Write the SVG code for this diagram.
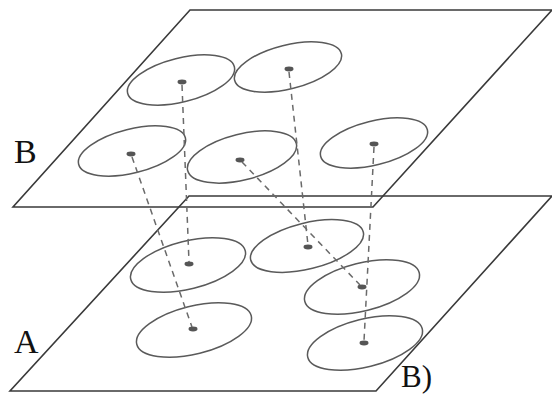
<svg xmlns="http://www.w3.org/2000/svg" width="552" height="396" viewBox="0 0 552 396">
<style>
.plane{fill:none;stroke:#3a3a3a;stroke-width:1.6}
.cell{fill:none;stroke:#5a5a5a;stroke-width:1.5}
.dot{fill:#555;stroke:none}
.link{fill:none;stroke:#6a6a6a;stroke-width:1.5;stroke-dasharray:6 5}
.lbl{font-family:"Liberation Serif","Times New Roman",serif;fill:#111}
</style>
<rect width="552" height="396" fill="#fff"/>
<g id="planeA">
<polygon class="plane" points="189,196 552,196 376,391 10,391"/>
<text class="lbl" x="14" y="353" font-size="34">A</text>
</g>
<g id="planeB">
<polygon class="plane" points="190,10 552,10 373,207 13,207"/>
<text class="lbl" x="14" y="163" font-size="34">B</text>
</g>
<g id="b1"><ellipse class="cell" cx="181" cy="80" rx="55" ry="22" transform="rotate(-14 181 80)"/><ellipse class="dot" cx="182" cy="82" rx="4.5" ry="2.4"/></g>
<g id="b2"><ellipse class="cell" cx="288" cy="67" rx="55" ry="22" transform="rotate(-14 288 67)"/><ellipse class="dot" cx="289" cy="69" rx="4.5" ry="2.4"/></g>
<g id="b3"><ellipse class="cell" cx="132" cy="151" rx="55" ry="22" transform="rotate(-14 132 151)"/><ellipse class="dot" cx="131" cy="154" rx="4.5" ry="2.4"/></g>
<g id="b4"><ellipse class="cell" cx="242" cy="157" rx="56" ry="23" transform="rotate(-14 242 157)"/><ellipse class="dot" cx="240" cy="160" rx="4.5" ry="2.4"/></g>
<g id="b5"><ellipse class="cell" cx="374" cy="143" rx="55" ry="22" transform="rotate(-14 374 143)"/><ellipse class="dot" cx="374" cy="144" rx="4.5" ry="2.4"/></g>
<g id="a1"><ellipse class="cell" cx="188" cy="265" rx="59" ry="24" transform="rotate(-14 188 265)"/><ellipse class="dot" cx="189" cy="264" rx="4.5" ry="2.4"/></g>
<g id="a2"><ellipse class="cell" cx="194" cy="330" rx="59" ry="24" transform="rotate(-14 194 330)"/><ellipse class="dot" cx="193" cy="329" rx="4.5" ry="2.4"/></g>
<g id="a3"><ellipse class="cell" cx="307" cy="246" rx="58" ry="23" transform="rotate(-14 307 246)"/><ellipse class="dot" cx="308" cy="247" rx="4.5" ry="2.4"/></g>
<g id="a4"><ellipse class="cell" cx="362" cy="287" rx="59" ry="24" transform="rotate(-14 362 287)"/><ellipse class="dot" cx="362" cy="287" rx="4.5" ry="2.4"/></g>
<g id="a5"><ellipse class="cell" cx="365" cy="343" rx="59" ry="24" transform="rotate(-14 365 343)"/><ellipse class="dot" cx="364" cy="343" rx="4.5" ry="2.4"/></g>
<g id="connectors">
<line class="link" x1="182" y1="85" x2="189" y2="262"/>
<line class="link" x1="132" y1="157" x2="192" y2="327"/>
<line class="link" x1="289" y1="72" x2="308" y2="245"/>
<line class="link" x1="242" y1="162" x2="360" y2="285"/>
<line class="link" x1="374" y1="147" x2="364" y2="341"/>
</g>
<text class="lbl" x="401" y="387" font-size="31">B)</text>
</svg>
